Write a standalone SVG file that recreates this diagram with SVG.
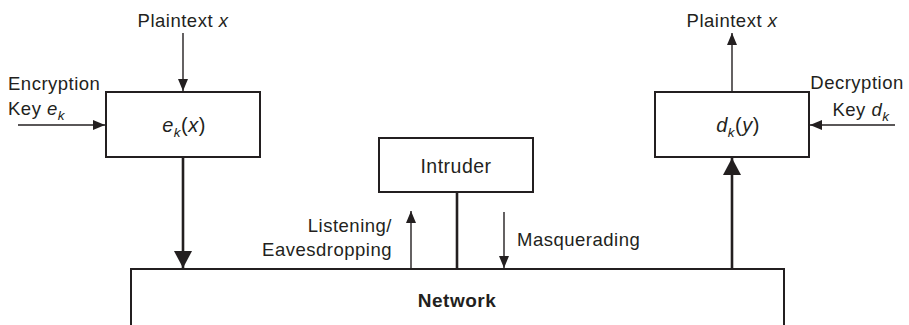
<svg xmlns="http://www.w3.org/2000/svg" width="909" height="325" viewBox="0 0 909 325">
<style>
text{font-family:"Liberation Sans",Arial,sans-serif;font-size:18.5px;fill:#231f20;letter-spacing:0.5px}
.it{font-style:italic}
.sub{font-size:13.5px;font-style:italic}
.b{font-weight:bold;font-size:19px}
.box{fill:#fff;stroke:#231f20;stroke-width:2}
.thin{stroke:#231f20;stroke-width:1.4;fill:none}
.thick{stroke:#231f20;stroke-width:2.6;fill:none}
</style>
<defs>
<marker id="ah" markerUnits="userSpaceOnUse" markerWidth="12" markerHeight="10" refX="12" refY="5" orient="auto"><path d="M0,0 L12,5 L0,10 z" fill="#231f20"/></marker>
<marker id="ahb" markerUnits="userSpaceOnUse" markerWidth="17" markerHeight="18" refX="17" refY="9" orient="auto"><path d="M0,0 L17,9 L0,18 z" fill="#231f20"/></marker>
</defs>
<g id="network"><rect class="box" x="131" y="269" width="653" height="80"/><text class="b" x="457" y="307" text-anchor="middle">Network</text></g>
<g id="encrypt"><rect class="box" x="106" y="92" width="154" height="65"/><text x="184" y="132" text-anchor="middle" style="font-size:20px"><tspan class="it">e</tspan><tspan class="sub" dy="5">k</tspan><tspan dy="-5">(</tspan><tspan class="it">x</tspan>)</text></g>
<g id="decrypt"><rect class="box" x="655" y="92" width="154" height="65"/><text x="738" y="132" text-anchor="middle" style="font-size:20px"><tspan class="it">d</tspan><tspan class="sub" dy="5">k</tspan><tspan dy="-5">(</tspan><tspan class="it">y</tspan>)</text></g>
<g id="intruder"><rect class="box" x="379" y="138" width="154" height="54"/><text x="456" y="173" text-anchor="middle" style="font-size:19.5px">Intruder</text></g>
<g id="labels">
<text x="183" y="27" text-anchor="middle">Plaintext <tspan class="it">x</tspan></text>
<text x="732" y="27" text-anchor="middle">Plaintext <tspan class="it">x</tspan></text>
<text x="8" y="90">Encryption</text>
<text x="8" y="115">Key <tspan class="it">e</tspan><tspan class="sub" dy="5">k</tspan></text>
<text x="857" y="89" text-anchor="middle">Decryption</text>
<text x="861" y="116" text-anchor="middle">Key <tspan class="it">d</tspan><tspan class="sub" dy="5">k</tspan></text>
<text x="392" y="232" text-anchor="end">Listening/</text>
<text x="392" y="256" text-anchor="end">Eavesdropping</text>
<text x="517" y="246">Masquerading</text>
</g>
<g id="connectors">
<line class="thin" x1="183" y1="33" x2="183" y2="91" marker-end="url(#ah)"/>
<line class="thin" x1="18" y1="125" x2="105" y2="125" marker-end="url(#ah)"/>
<line class="thick" x1="183" y1="157" x2="183" y2="268" marker-end="url(#ahb)"/>
<line class="thick" x1="732" y1="269" x2="732" y2="158" marker-end="url(#ahb)"/>
<line class="thin" x1="732" y1="92" x2="732" y2="33" marker-end="url(#ah)"/>
<line class="thin" x1="895" y1="125" x2="810" y2="125" marker-end="url(#ah)"/>
<line class="thick" x1="457" y1="192" x2="457" y2="269"/>
<line class="thin" x1="411" y1="269" x2="411" y2="211" marker-end="url(#ah)"/>
<line class="thin" x1="504" y1="212" x2="504" y2="268" marker-end="url(#ah)"/>
</g>
</svg>
